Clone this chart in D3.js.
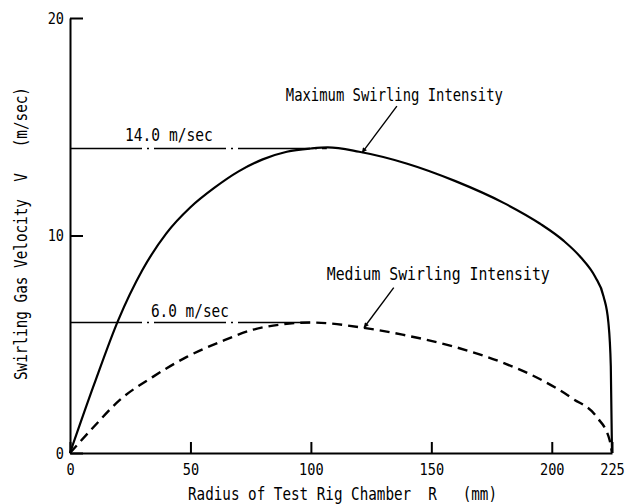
<!DOCTYPE html>
<html>
<head>
<meta charset="utf-8">
<script src="https://cdn.jsdelivr.net/npm/d3@7"></script>
<style>
  body { margin: 0; background: #fff; }
  text { font-family: "DejaVu Sans Mono", monospace; fill: #000; }
</style>
</head>
<body>
<div id="chart"></div>
<script>
// radius (mm) vs swirling gas velocity (m/sec)
var maxR = [0, 10, 20, 30, 40, 50, 60, 70, 80, 90, 100, 107, 120, 140, 160, 180, 195, 205, 212, 218, 221.5, 223.5, 224.5, 225]
var maxV = [0, 3.15, 6.1, 8.4, 10.1, 11.3, 12.2, 12.95, 13.5, 13.85, 14.0, 14.05, 13.85, 13.3, 12.5, 11.5, 10.55, 9.75, 9.0, 8.1, 7.2, 6.0, 4.0, 0]

var medR = [0, 10, 20.7, 34.4, 48.5, 62.2, 76, 87, 100, 121.6, 138, 159, 179.7, 195, 208.7, 218.7, 224, 225]
var medV = [0, 1.22, 2.44, 3.5, 4.42, 5.1, 5.67, 5.9, 6.0, 5.76, 5.44, 4.9, 4.15, 3.4, 2.5, 1.65, 0.6, 0]

var xTicks = [0, 50, 100, 150, 200, 225]
var yTicks = [0, 10, 20]

var peakLines = [
  { r: 106.6, v: 14.0, label: "14.0 m/sec", lx: 22.8, ly: 14.33, len: 88 },
  { r: 100, v: 6.0, label: "6.0 m/sec", lx: 33.6, ly: 6.27, len: 78 }
]

var notes = [
  { label: "Maximum Swirling Intensity", lx: 89.6, ly: 16.17, len: 217, from: [135.7, 15.95], to: [121.2, 13.8] },
  { label: "Medium Swirling Intensity", lx: 106.6, ly: 7.97, len: 223, from: [134.4, 7.6], to: [122, 5.76] }
]

var width = 628, height = 504

var svg = d3.select("#chart").append("svg")
  .attr("width", width)
  .attr("height", height)

var x = d3.scaleLinear().domain([0, 225]).range([70, 612])
var y = d3.scaleLinear().domain([0, 20]).range([453, 18])

svg.append("defs").append("marker")
  .attr("id", "arrow")
  .attr("viewBox", "0 0 10 10")
  .attr("refX", 10)
  .attr("refY", 5)
  .attr("markerWidth", 10)
  .attr("markerHeight", 5)
  .attr("markerUnits", "userSpaceOnUse")
  .attr("orient", "auto")
  .append("path")
  .attr("d", "M0,0 L10,5 L0,10 z")
  .attr("fill", "#000")

// axes
svg.append("g")
  .attr("transform", "translate(0," + y(0) + ")")
  .call(d3.axisBottom(x).tickValues(xTicks).tickSizeInner(-11).tickSizeOuter(0).tickPadding(11).tickFormat(d3.format("d")))
svg.append("g")
  .attr("transform", "translate(" + x(0) + ",0)")
  .call(d3.axisLeft(y).tickValues(yTicks).tickSizeInner(-13).tickSizeOuter(0).tickPadding(6).tickFormat(d3.format("d")))

svg.selectAll(".domain, .tick line").attr("stroke", "#000").attr("stroke-width", 2)
svg.selectAll(".tick text")
  .style("font-family", "DejaVu Sans Mono")
  .style("font-size", "16px")
  .attr("transform", "scale(0.85,1)")
  .attr("x", function () { return +d3.select(this).attr("x") / 0.85 })

// axis titles
svg.append("text")
  .attr("x", 188)
  .attr("y", 500)
  .attr("textLength", 309)
  .attr("lengthAdjust", "spacingAndGlyphs")
  .style("font-size", "17px")
  .style("white-space", "pre")
  .text("Radius of Test Rig Chamber  R   (mm)")

svg.append("text")
  .attr("transform", "translate(27,380) rotate(-90)")
  .attr("textLength", 293)
  .attr("lengthAdjust", "spacingAndGlyphs")
  .style("font-size", "17px")
  .style("white-space", "pre")
  .text("Swirling Gas Velocity  V   (m/sec)")

// peak reference lines
svg.selectAll(".peak")
  .data(peakLines)
  .enter()
  .append("line")
  .attr("x1", x(0))
  .attr("x2", function (d) { return x(d.r) })
  .attr("y1", function (d) { return y(d.v) })
  .attr("y2", function (d) { return y(d.v) })
  .attr("stroke", "#000")
  .attr("stroke-width", 1.4)
  .attr("stroke-dasharray", "72,5,2,5")

svg.selectAll(".peak-label")
  .data(peakLines)
  .enter()
  .append("text")
  .attr("x", function (d) { return x(d.lx) })
  .attr("y", function (d) { return y(d.ly) })
  .attr("textLength", function (d) { return d.len })
  .attr("lengthAdjust", "spacingAndGlyphs")
  .style("font-size", "17px")
  .text(function (d) { return d.label })

// curves
var line = d3.line()
  .x(function (d) { return x(d[0]) })
  .y(function (d) { return y(d[1]) })
  .curve(d3.curveMonotoneX)

svg.append("path")
  .datum(d3.zip(maxR, maxV))
  .attr("d", line)
  .attr("fill", "none")
  .attr("stroke", "#000")
  .attr("stroke-width", 2.2)

svg.append("path")
  .datum(d3.zip(medR, medV))
  .attr("d", line)
  .attr("fill", "none")
  .attr("stroke", "#000")
  .attr("stroke-width", 2.4)
  .attr("stroke-dasharray", "10,6")

// annotations
svg.selectAll(".note-arrow")
  .data(notes)
  .enter()
  .append("line")
  .attr("x1", function (d) { return x(d.from[0]) })
  .attr("y1", function (d) { return y(d.from[1]) })
  .attr("x2", function (d) { return x(d.to[0]) })
  .attr("y2", function (d) { return y(d.to[1]) })
  .attr("stroke", "#000")
  .attr("stroke-width", 1.4)
  .attr("marker-end", "url(#arrow)")

svg.selectAll(".note-label")
  .data(notes)
  .enter()
  .append("text")
  .attr("x", function (d) { return x(d.lx) })
  .attr("y", function (d) { return y(d.ly) })
  .attr("textLength", function (d) { return d.len })
  .attr("lengthAdjust", "spacingAndGlyphs")
  .style("font-size", "17px")
  .text(function (d) { return d.label })
</script>
</body>
</html>
